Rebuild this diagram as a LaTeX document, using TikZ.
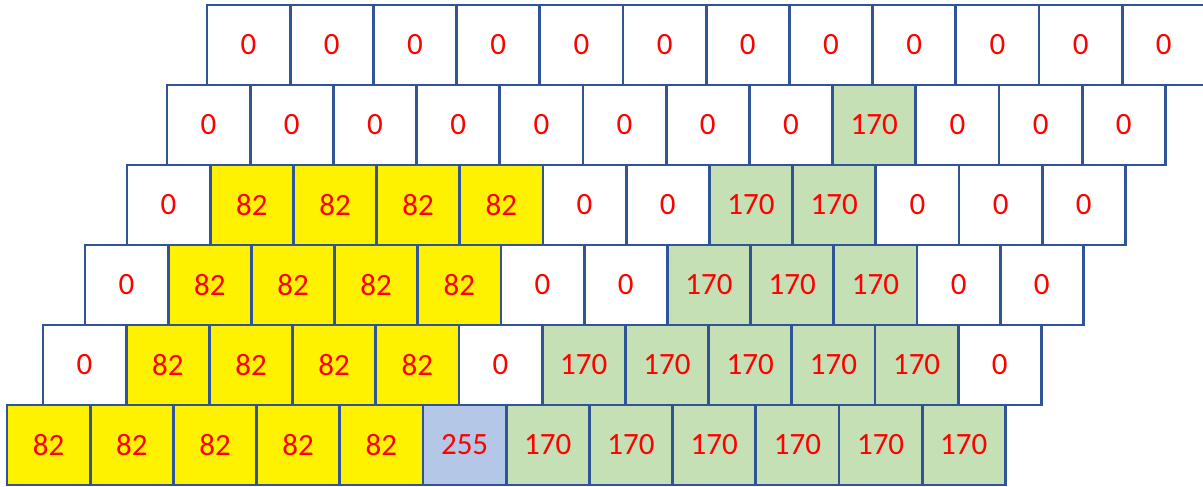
\documentclass[tikz,border=0pt]{standalone}
\usepackage{fontspec}
\setmainfont{Carlito}
\usepackage{tikz}
\definecolor{cellline}{RGB}{47,85,151}
\definecolor{cellgreen}{RGB}{197,224,180}
\definecolor{cellblue}{RGB}{180,199,231}
\tikzset{
  cell/.style={
    rectangle, draw=cellline, line width=2.8pt,
    minimum width=83.2pt, minimum height=80pt, inner sep=0pt,
    text=red, font=\fontsize{31}{36}\selectfont
  },
  val0/.style={fill=white},
  val82/.style={fill=yellow},
  val170/.style={fill=cellgreen},
  val255/.style={fill=cellblue},
}
\begin{document}
\begin{tikzpicture}[x=1pt, y=1pt]
  \useasboundingbox (0,0) rectangle (1203,-487);
  \foreach \off/\vals [count=\r] in {
    207/{0,0,0,0,0,0,0,0,0,0,0,0},
    167/{0,0,0,0,0,0,0,0,170,0,0,0},
    127/{0,82,82,82,82,0,0,170,170,0,0,0},
    85/{0,82,82,82,82,0,0,170,170,170,0,0},
    43/{0,82,82,82,82,0,170,170,170,170,170,0},
    7/{82,82,82,82,82,255,170,170,170,170,170,170}} {
    \foreach \v [count=\c] in \vals {
      \node (c-\r-\c) [cell, val\v]
        at ({\off+83.2*(\c-1)+41.6}, {-45-80*(\r-1)}) {\v};
    }
  }
\end{tikzpicture}
\end{document}
